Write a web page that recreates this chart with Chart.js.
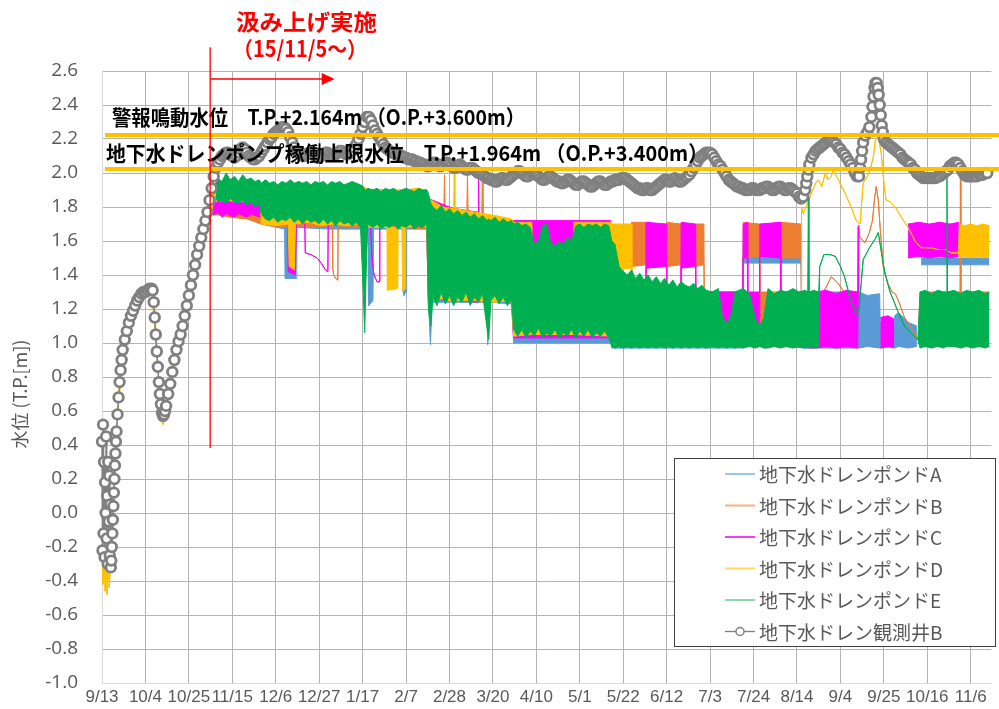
<!DOCTYPE html>
<html><head><meta charset="utf-8">
<script src="https://cdn.jsdelivr.net/npm/chart.js@4.4.1/dist/chart.umd.min.js"></script>
<style>html,body{margin:0;padding:0;background:#fff;}#wrap{width:999px;height:709px;}</style>
</head><body><div id="wrap"><canvas id="c" width="999" height="709"></canvas></div>
<script>
// ---- axis definitions (x = days since 2015-09-13) ----
const xTickLabels = ['9/13','10/4','10/25','11/15','12/6','12/27','1/17','2/7','2/28','3/20','4/10','5/1','5/22','6/12','7/3','7/24','8/14','9/4','9/25','10/16','11/6'];
const xTickStep = 21;
const xMax = 430;
const yTickValues = [-1.0,-0.8,-0.6,-0.4,-0.2,0.0,0.2,0.4,0.6,0.8,1.0,1.2,1.4,1.6,1.8,2.0,2.2,2.4,2.6];

const seriesNames = ['地下水ドレンポンドA','地下水ドレンポンドB','地下水ドレンポンドC','地下水ドレンポンドD','地下水ドレンポンドE','地下水ドレン観測井B'];

// ---- observation well B (daily from day 10, plus detail points) ----
const obsDailyStart = 10;
const obsDaily = [
0.96,1.02,1.07,1.12,1.16,1.19,1.22,1.25,1.27,1.29,
1.30,1.30,1.31,1.32,1.32,1.24,1.05,0.86,0.70,0.59,
0.58,0.63,0.70,0.76,0.83,0.90,0.96,1.01,1.05,1.10,
1.16,1.22,1.28,1.34,1.40,1.46,1.52,1.57,1.62,1.67,
1.72,1.77,1.84,1.91,1.98,2.03,2.06,2.08,2.10,2.11,
2.12,2.12,2.11,2.10,2.09,2.10,2.12,2.14,2.15,2.14,
2.12,2.10,2.09,2.08,2.08,2.09,2.10,2.12,2.14,2.16,
2.18,2.20,2.21,2.23,2.24,2.25,2.26,2.27,2.27,2.26,
2.24,2.21,2.18,2.15,2.13,2.12,2.11,2.10,2.10,2.11,
2.12,2.12,2.11,2.10,2.09,2.09,2.10,2.11,2.12,2.12,
2.11,2.10,2.10,2.11,2.12,2.13,2.13,2.12,2.11,2.11,
2.12,2.13,2.15,2.17,2.20,2.23,2.27,2.30,2.33,2.33,
2.31,2.28,2.25,2.23,2.21,2.19,2.17,2.15,2.14,2.13,
2.12,2.12,2.11,2.11,2.10,2.10,2.09,2.09,2.08,2.08,
2.08,2.07,2.07,2.06,2.06,2.05,2.05,2.04,2.04,2.05,
2.06,2.06,2.05,2.04,2.04,2.05,2.06,2.06,2.05,2.04,
2.03,2.03,2.04,2.05,2.04,2.03,2.02,2.02,2.03,2.03,
2.02,2.01,2.00,2.00,1.99,1.98,1.97,1.97,1.96,1.96,
1.95,1.95,1.96,1.97,1.97,1.96,1.96,1.97,1.98,1.99,
2.00,2.01,2.01,2.00,1.99,1.98,1.98,1.99,2.00,2.00,
1.99,1.98,1.97,1.96,1.96,1.97,1.98,1.98,1.97,1.96,
1.95,1.95,1.94,1.94,1.95,1.96,1.96,1.95,1.94,1.93,
1.93,1.94,1.95,1.95,1.94,1.93,1.92,1.92,1.93,1.94,
1.95,1.95,1.94,1.93,1.93,1.94,1.95,1.95,1.96,1.96,
1.96,1.97,1.97,1.97,1.96,1.95,1.94,1.93,1.92,1.91,
1.91,1.90,1.90,1.91,1.91,1.90,1.90,1.91,1.92,1.93,
1.94,1.95,1.96,1.96,1.95,1.95,1.96,1.97,1.96,1.95,
1.95,1.96,1.97,1.98,1.99,2.01,2.03,2.05,2.07,2.09,
2.10,2.11,2.12,2.12,2.12,2.11,2.09,2.07,2.05,2.04,
2.02,2.00,1.98,1.96,1.95,1.94,1.93,1.92,1.92,1.91,
1.91,1.90,1.90,1.90,1.91,1.91,1.90,1.90,1.90,1.91,
1.91,1.92,1.92,1.91,1.90,1.90,1.91,1.92,1.92,1.91,
1.90,1.90,1.91,1.91,1.90,1.89,1.88,1.86,1.85,1.86,
1.90,1.98,2.05,2.09,2.11,2.13,2.14,2.15,2.16,2.17,
2.18,2.19,2.19,2.19,2.18,2.17,2.15,2.14,2.12,2.11,
2.09,2.07,2.05,2.03,2.00,1.98,1.98,2.08,2.18,2.22,
2.24,2.27,2.33,2.45,2.53,2.50,2.40,2.28,2.20,2.18,
2.17,2.16,2.15,2.14,2.13,2.12,2.11,2.09,2.08,2.07,
2.06,2.05,2.03,2.02,2.00,1.99,1.98,1.97,1.97,1.97,
1.97,1.97,1.97,1.97,1.98,1.98,1.99,2.00,2.01,2.02,
2.04,2.05,2.06,2.06,2.05,2.03,2.01,1.99,1.98,1.98,
1.98,1.98,1.98,1.98,1.99,1.99,1.99,2.00,2.00
];
const obsDetail = [
[0,0.42],[0.25,-0.22],[0.5,0.52],[0.75,-0.12],[1,0.3],[1.25,-0.26],[1.5,0.18],[1.75,0.0],[2,0.45],[2.25,-0.15],[2.5,0.1],[2.75,-0.3],[3,0.3],[3.25,-0.05],[3.5,0.22],[3.75,-0.25],[4,0.05],[4.25,-0.32],
[4.5,-0.28],[4.75,-0.2],[5,-0.12],[5.25,-0.04],[5.5,0.04],[5.75,0.12],[6,0.2],[6.25,0.28],[6.5,0.35],[6.75,0.42],[7,0.48],[7.5,0.58],[8,0.68],[8.5,0.77],[9,0.84],[9.5,0.9],
[24.5,1.31],[25.5,1.15],[26.5,0.95],[27.5,0.77],[28.5,0.64],[29.5,0.57],[30.5,0.6],
[340.5,1.94],[341.5,2.02],[366.5,2.03],[367.5,2.13],[372.5,2.39],[373.5,2.5],[374.5,2.53],[375.5,2.46],[376.5,2.34],[377.5,2.24]
];

// ---- pump pits: [day, daily max, daily min] ----
const pondA = [
[53.5,1.9,1.76],[70,1.91,1.74],[77,1.9,1.7],[88.3,1.9,1.67],[88.5,1.9,1.38],[93.8,1.9,1.38],[94.2,1.9,1.68],[110,1.9,1.67],[128.8,1.9,1.67],[129,1.9,1.22],[131,1.9,1.25],[131.3,1.9,1.67],[145.8,1.9,1.67],[146,1.9,1.28],[147,1.9,1.3],[147.3,1.9,1.67],[157,1.9,1.67],[157.8,1.85,1.24],[158.8,1.8,0.99],[159.6,1.8,1.24],[186,1.74,1.24],[186.5,1.74,0.99],[187.5,1.74,1.24],[198,1.72,1.23],[199,1.7,1.0],[246,1.7,1.0],[246.5,1.3,0.97],[309.8,1.3,0.97],[310,1.52,1.47],[338,1.52,1.47],[338.2,1.3,0.97],[366,1.3,0.97],[370,1.28,0.98],[376,1.29,0.97],[376.2,1.12,0.97],[383,1.12,0.98],[383.2,1.16,0.97],[385,1.18,0.98],[390,1.12,0.97],[394,1.1,0.98],[394.5,null,null],[396,1.5,1.46],[429,1.5,1.46]
];
const pondB = [
[53.3,1.9,1.76],[62,1.92,1.74],[70,1.91,1.73],[77,1.9,1.7],[86,1.92,1.68],[94,1.91,1.69],[102,1.9,1.68],[111.3,1.91,1.69],[111.5,1.45,1.45],[112,1.4,1.4],[113,1.38,1.38],[114,1.37,1.37],[114.2,1.74,1.74],[114.4,1.9,1.69],[122,1.91,1.68],[130,1.9,1.68],[138,1.89,1.69],[146,1.9,1.68],[157,1.9,1.67],[157.8,1.85,1.27],[165.3,1.8,1.26],[165.6,1.99,1.26],[165.9,1.8,1.27],[176.4,1.78,1.25],[176.7,2.0,1.25],[177,1.77,1.26],[183.6,1.75,1.24],[183.9,2.0,1.25],[184.2,1.75,1.24],[190,1.74,1.26],[198,1.72,1.24],[199,1.72,1.05],[207.8,1.72,1.05],[208,1.55,1.05],[228,1.55,1.05],[228.2,1.72,1.05],[246,1.71,1.04],[246.5,1.3,0.98],[255.8,1.3,0.98],[256,1.71,1.45],[263,1.71,1.46],[263.2,1.3,0.98],[272.8,1.3,0.98],[273,1.71,1.45],[280,1.7,1.46],[280.2,1.3,0.98],[286.8,1.3,0.98],[287,1.7,1.45],[291,1.7,1.46],[291.2,1.3,0.98],[309.8,1.3,0.98],[310,1.71,1.5],[318,1.7,1.51],[318.2,1.3,0.98],[327.8,1.3,0.98],[328,1.71,1.5],[338,1.7,1.5],[338.2,1.3,0.98],[348.8,1.3,0.98],[349,1.3,1.3],[352.6,1.39,1.39],[356,1.35,1.35],[359.3,1.29,1.29],[363,1.28,1.28],[365.4,1.3,1.3],[365.6,1.68,1.68],[366.5,1.62,1.62],[368.9,1.59,1.59],[371,1.65,1.65],[372.5,1.72,1.72],[373.5,1.85,1.85],[374.3,1.92,1.92],[375.3,1.84,1.84],[376.2,1.68,1.68],[377.7,1.45,1.45],[380,1.35,1.35],[382,1.3,1.3],[383.5,1.29,1.29],[385,1.25,1.25],[388,1.15,1.15],[391.2,1.09,1.09],[394.5,1.02,1.02],[395.5,1.3,0.98],[414.8,1.3,0.98],[415,2.0,0.98],[415.3,1.3,0.98],[429,1.3,0.98]
];
const pondC = [
[53.7,1.93,1.75],[56,1.95,1.77],[58,1.92,1.74],[60,1.94,1.76],[62,1.9,1.75],[64,1.93,1.74],[66,1.91,1.76],[68,1.94,1.75],[70,1.9,1.74],[72,1.93,1.76],[74,1.91,1.75],[76.5,1.92,1.74],[78,1.9,1.71],[84,1.91,1.7],[89.8,1.9,1.71],[90,1.9,1.42],[93.5,1.9,1.4],[94,1.91,1.7],[97.8,1.9,1.71],[98,1.74,1.74],[98.3,1.53,1.53],[101,1.52,1.52],[104,1.5,1.5],[106,1.47,1.47],[108,1.43,1.43],[109.2,1.42,1.42],[109.4,1.74,1.74],[109.6,1.9,1.71],[120,1.9,1.7],[129.8,1.9,1.7],[130,1.7,1.7],[130.5,1.5,1.5],[131.5,1.4,1.4],[133,1.36,1.36],[134,1.36,1.36],[134.3,1.7,1.7],[134.5,1.9,1.7],[145,1.89,1.69],[157,1.9,1.68],[157.8,1.85,1.26],[170,1.79,1.25],[181.8,1.77,1.24],[182,2.0,1.24],[182.3,1.76,1.25],[198,1.72,1.25],[199,1.72,1.03],[246,1.72,1.03],[246.5,1.3,0.98],[262.8,1.3,0.98],[263,1.71,1.44],[273,1.7,1.45],[273.2,1.3,0.98],[279.8,1.3,0.98],[280,1.71,1.44],[287,1.7,1.45],[287.2,1.3,0.98],[309.8,1.3,0.98],[310,1.7,1.5],[312,1.71,1.5],[312.2,1.3,0.98],[317.8,1.3,0.98],[318,1.7,1.51],[328,1.71,1.5],[328.2,1.3,0.98],[345,1.3,0.97],[350,1.31,0.98],[355,1.29,0.97],[360,1.31,0.98],[365.4,1.3,0.97],[365.6,1.69,1.3],[366.3,1.69,1.3],[366.5,null,null],[376.3,1.15,0.97],[380,1.16,0.98],[383,1.14,0.97],[383.2,null,null],[389.7,1.7,1.5],[395,1.71,1.51],[400,1.7,1.5],[405,1.71,1.51],[410,1.7,1.5],[414.3,1.71,1.51],[414.5,null,null]
];
const pondD = [
[0,-0.28,-0.28],[0.5,-0.42,-0.42],[1,-0.2,-0.2],[1.5,-0.46,-0.46],[2,-0.3,-0.3],[2.5,-0.48,-0.48],[3,-0.26,-0.26],[3.5,-0.44,-0.44],[4,-0.32,-0.32],[5,-0.12,-0.12],[6,0.18,0.18],[8,0.66,0.66],[12,1.05,1.05],[16,1.2,1.2],[20,1.27,1.27],[24,1.3,1.3],[26,1.02,1.02],[28,0.68,0.68],[29.5,0.52,0.52],[31,0.6,0.6],[35,0.87,0.87],[40,1.13,1.13],[45,1.43,1.43],[50,1.7,1.7],[53,1.78,1.78],
[54,1.93,1.83],[60,1.94,1.84],[66,1.93,1.83],[72,1.94,1.84],[76.5,1.93,1.83],[77,1.92,1.7],[84,1.93,1.69],[90,1.92,1.7],[90.5,1.9,1.45],[93,1.9,1.43],[93.5,1.92,1.7],[100,1.93,1.71],[106,1.92,1.69],[112,1.93,1.7],[118,1.92,1.69],[124,1.93,1.7],[130,1.9,1.68],[137.8,1.9,1.68],[138,1.68,1.31],[143,1.68,1.32],[143.2,1.9,1.68],[145,1.9,1.68],[145.3,1.9,1.3],[146.5,1.9,1.32],[146.8,1.9,1.68],[152,1.91,1.69],[157,1.9,1.68],[157.8,1.85,1.25],[165,1.8,1.26],[170,1.79,1.24],[170.3,2.0,1.24],[170.6,1.79,1.25],[180,1.77,1.25],[190,1.75,1.24],[198,1.73,1.25],[199,1.71,1.04],[207.8,1.71,1.05],[208,1.55,1.05],[228,1.55,1.05],[228.2,1.71,1.05],[246,1.71,1.04],[246.5,1.7,1.43],[256,1.7,1.44],[256.2,1.3,0.98],[297.8,1.3,0.98],[298,1.08,0.98],[322,1.08,0.98],[322.2,1.3,0.98],[338,1.3,0.98],
[338.2,1.8,1.8],[339,1.76,1.76],[341,1.82,1.82],[343,1.88,1.88],[345,1.94,1.94],[346.3,1.96,1.96],[348,1.92,1.92],[349.7,2.0,2.0],[351,1.96,1.96],[352.6,1.98,1.98],[353.5,2.02,2.02],[356,1.96,1.96],[359.3,1.88,1.88],[362.2,1.8,1.8],[364.6,1.72,1.72],[366.5,1.7,1.7],[368,1.94,1.94],[370,1.98,1.98],[371.4,2.02,2.02],[373,2.1,2.1],[373.8,2.19,2.19],[375.3,2.21,2.21],[376.7,2.12,2.12],[378.2,1.92,1.92],[379.1,1.84,1.84],[381,1.83,1.83],[383.5,1.8,1.8],[386.4,1.74,1.74],[389.7,1.68,1.68],[393.1,1.6,1.6],[396,1.56,1.56],[400.9,1.56,1.56],[404,1.55,1.55],[407.6,1.55,1.55],[410.5,1.53,1.53],[414,1.53,1.53],
[414.5,1.7,1.5],[417,1.69,1.51],[420,1.7,1.5],[423,1.69,1.51],[426,1.7,1.5],[429,1.69,1.51]
];
const pondE = [
[55,1.9,1.86],[56,1.97,1.83],[58,1.95,1.84],[60,2.0,1.82],[62,1.96,1.85],[64,1.98,1.83],[66,1.95,1.82],[68,1.99,1.84],[70,1.96,1.81],[72,1.97,1.83],[74,1.95,1.8],[76,1.96,1.82],[77,1.94,1.76],[79,1.96,1.73],[81,1.94,1.72],[83,1.95,1.74],[85,1.93,1.71],[87,1.95,1.73],[89,1.94,1.72],[91,1.96,1.74],[93,1.94,1.71],[95,1.95,1.73],[97,1.94,1.7],[99,1.95,1.73],[101,1.93,1.71],[103,1.95,1.72],[105,1.94,1.7],[107,1.95,1.73],[109,1.93,1.7],[111,1.95,1.72],[113,1.94,1.69],[115,1.95,1.72],[117,1.93,1.7],[119,1.94,1.71],[121,1.95,1.69],[123,1.94,1.71],[125,1.93,1.68],[126.3,1.92,1.3],[127,1.9,1.06],[127.7,1.9,1.4],[128.5,1.91,1.7],[131,1.9,1.68],[133,1.91,1.7],[135,1.89,1.67],[137,1.91,1.69],[139,1.9,1.68],[141,1.91,1.7],[143,1.89,1.67],[145,1.9,1.69],[147,1.91,1.68],[149,1.9,1.7],[151,1.89,1.67],[153,1.91,1.69],[155,1.9,1.68],[157,1.9,1.7],[157.8,1.88,1.2],[159,1.82,1.1],[160,1.8,1.27],[162,1.78,1.22],[164,1.81,1.3],[166,1.77,1.23],[168,1.79,1.28],[170,1.76,1.22],[172,1.78,1.27],[174,1.75,1.24],[176,1.77,1.3],[178,1.74,1.22],[180,1.76,1.27],[182,1.73,1.24],[184,1.75,1.29],[186,1.72,1.1],[187,1.73,1.02],[188,1.72,1.25],[190,1.74,1.28],[192,1.71,1.23],[194,1.73,1.27],[196,1.71,1.22],[198,1.72,1.26],[199,1.7,1.08],[201,1.71,1.04],[203,1.69,1.08],[205,1.7,1.03],[207,1.68,1.07],[209,1.58,1.04],[211,1.6,1.09],[213,1.69,1.03],[215,1.7,1.06],[217,1.59,1.04],[219,1.57,1.08],[221,1.6,1.03],[223,1.58,1.06],[225,1.62,1.04],[227,1.6,1.08],[229,1.69,1.03],[231,1.7,1.07],[233,1.68,1.04],[235,1.7,1.08],[237,1.69,1.03],[239,1.7,1.06],[241,1.68,1.04],[243,1.7,1.07],[245,1.69,1.03],[246.5,1.6,0.98],[248,1.58,0.97],[250,1.45,0.98],[252,1.42,0.97],[254,1.4,0.98],[256,1.43,0.97],[258,1.38,0.98],[260,1.41,0.97],[262,1.37,0.98],[264,1.4,0.97],[266,1.36,0.98],[268,1.39,0.97],[270,1.35,0.98],[272,1.38,0.97],[274,1.34,0.98],[276,1.37,0.97],[278,1.33,0.98],[280,1.36,0.97],[282,1.34,0.98],[284,1.33,0.97],[286,1.35,0.98],[288,1.32,0.97],[290,1.34,0.98],[292,1.31,0.97],[295,1.3,0.98],[298,1.32,0.97],[300,1.15,0.98],[302,1.12,0.97],[304,1.16,0.98],[306,1.3,0.97],[308,1.31,0.98],[310,1.32,0.97],[313,1.29,0.98],[316,1.14,0.97],[318,1.1,0.98],[320,1.15,0.97],[322,1.32,0.97],[325,1.29,0.98],[328,1.31,0.97],[331,1.3,0.98],[334,1.32,0.97],[337,1.3,0.98],[340,1.31,0.97],[341.2,1.3,0.98],[341.5,1.86,0.98],[341.8,1.3,0.98],[344,1.31,0.97],[346.5,1.3,0.98],[347,1.45,1.45],[349,1.52,1.52],[352,1.52,1.52],[354.5,1.51,1.51],[357,1.45,1.45],[359,1.39,1.39],[362,1.25,1.25],[364.8,1.16,1.16],[366,1.2,1.2],[368,1.49,1.49],[371,1.56,1.56],[373.7,1.61,1.61],[375.3,1.65,1.65],[377,1.52,1.52],[378.5,1.41,1.41],[381,1.3,1.3],[385,1.18,1.18],[388,1.1,1.1],[391,1.06,1.06],[394.5,1.02,1.02],[395.5,1.3,0.97],[398,1.31,0.98],[401,1.29,0.97],[404,1.31,0.98],[407,1.3,0.97],[408.2,1.3,0.98],[408.5,2.06,0.98],[408.8,1.3,0.98],[412,1.31,0.98],[415,1.29,0.97],[418,1.31,0.98],[421,1.3,0.97],[424,1.31,0.98],[427,1.29,0.97],[429,1.3,0.98]
];

// ---- annotation values ----
const thresholdLevels = [2.222, 2.026];
const thresholdTexts = ['警報鳴動水位　T.P.+2.164m （O.P.+3.600m）','地下水ドレンポンプ稼働上限水位　T.P.+1.964m （O.P.+3.400m）'];
const pumpStartDay = 52.3;
const pumpLineRange = [0.382, 2.74];
const arrowLevel = 2.553;
const arrowEndDay = 112.5;
const pumpTexts = ['汲み上げ実施','（15/11/5～）'];

// ---- styles ----
const plotColors = ['#5B9BD5','#ED7D31','#FF00FF','#FFC000','#00B050'];
const legendColors = ['#9DC3E6','#F4B183','#F040F0','#FFD966','#8ED9A8','#7F7F7F'];
const grey = '#808080';
const AREA = {left: 102, top: 71, right: 993, bottom: 683};

function bandSets(name, rows, color, order) {
  return [
    {label: name, data: rows.map(r => ({x: r[0], y: r[1]})), borderColor: color, backgroundColor: color,
     borderWidth: 1, pointRadius: 0, fill: '+1', order: order, spanGaps: false, tension: 0},
    {label: name + ' min', data: rows.map(r => ({x: r[0], y: r[2]})), borderColor: color, backgroundColor: color,
     borderWidth: 1, pointRadius: 0, fill: false, order: order, spanGaps: false, tension: 0}
  ];
}

const obsPoints = obsDetail.map(p => ({x: p[0], y: p[1]}))
  .concat(obsDaily.map((v, i) => ({x: obsDailyStart + i, y: v})))
  .sort((a, b) => a.x - b.x);

const datasets = [
  {label: seriesNames[5], data: obsPoints, borderColor: grey, borderWidth: 1.5, pointRadius: 4.8,
   pointBorderWidth: 2.8, pointBackgroundColor: '#ffffff', pointBorderColor: grey, fill: false, order: 0, clip: 8},
  ...bandSets(seriesNames[4], pondE, plotColors[4], 1),
  ...bandSets(seriesNames[3], pondD, plotColors[3], 2),
  ...bandSets(seriesNames[2], pondC, plotColors[2], 3),
  ...bandSets(seriesNames[1], pondB, plotColors[1], 4),
  ...bandSets(seriesNames[0], pondA, plotColors[0], 5)
];

function fitText(ctx, txt, x, y, w, font, color) {
  ctx.save();
  ctx.font = font; ctx.fillStyle = color; ctx.textBaseline = 'alphabetic'; ctx.textAlign = 'left';
  const m = ctx.measureText(txt).width;
  ctx.translate(x, y); ctx.scale(w / m, 1);
  ctx.fillText(txt, 0, 0);
  ctx.restore();
}

const annotPlugin = {
  id: 'annot',
  afterDatasetsDraw(chart) {
    const ctx = chart.ctx, xs = chart.scales.x, ys = chart.scales.y;
    ctx.save();
    ctx.strokeStyle = '#FFC000'; ctx.lineWidth = 4;
    thresholdLevels.forEach(v => {
      const py = Math.round(ys.getPixelForValue(v));
      ctx.beginPath(); ctx.moveTo(105, py); ctx.lineTo(999, py); ctx.stroke();
    });
    const f = "bold 21px 'Noto Sans CJK JP', sans-serif";
    fitText(ctx, thresholdTexts[0], 112, 125, 413, f, '#000');
    fitText(ctx, thresholdTexts[1], 106, 161, 602, f, '#000');
    const px = xs.getPixelForValue(pumpStartDay);
    ctx.strokeStyle = '#FF0000'; ctx.lineWidth = 1.3;
    ctx.beginPath(); ctx.moveTo(px, ys.getPixelForValue(pumpLineRange[1])); ctx.lineTo(px, ys.getPixelForValue(pumpLineRange[0])); ctx.stroke();
    const ay = ys.getPixelForValue(arrowLevel), ax = xs.getPixelForValue(arrowEndDay);
    ctx.beginPath(); ctx.moveTo(px, ay); ctx.lineTo(ax - 10, ay); ctx.stroke();
    ctx.fillStyle = '#FF0000';
    ctx.beginPath(); ctx.moveTo(ax, ay); ctx.lineTo(ax - 13, ay - 6); ctx.lineTo(ax - 13, ay + 6); ctx.closePath(); ctx.fill();
    const rf = "bold 22px 'Noto Sans CJK JP', sans-serif";
    fitText(ctx, pumpTexts[0], 236, 30, 141, rf, '#FF0000');
    fitText(ctx, pumpTexts[1], 233, 57, 134, rf, '#FF0000');
    ctx.save();
    ctx.translate(20, 394); ctx.rotate(-Math.PI / 2);
    ctx.font = "18px 'Noto Sans CJK JP', sans-serif"; ctx.fillStyle = '#595959';
    ctx.textAlign = 'center'; ctx.textBaseline = 'middle';
    ctx.fillText('水位 (T.P.[m])', 0, 0);
    ctx.restore();
    const lx = 674.5, ly = 458.5, lw = 321, lh = 188;
    ctx.fillStyle = '#fff'; ctx.fillRect(lx, ly, lw, lh);
    ctx.strokeStyle = '#404040'; ctx.lineWidth = 1; ctx.strokeRect(lx, ly, lw, lh);
    ctx.font = "19px 'Noto Sans CJK JP', sans-serif"; ctx.textBaseline = 'middle'; ctx.textAlign = 'left';
    for (let i = 0; i < seriesNames.length; i++) {
      const ry = 474 + i * 31.5;
      ctx.strokeStyle = legendColors[i]; ctx.lineWidth = i === 5 ? 1.3 : 2;
      ctx.beginPath(); ctx.moveTo(725, ry); ctx.lineTo(755, ry); ctx.stroke();
      if (i === 5) {
        ctx.fillStyle = '#fff'; ctx.lineWidth = 1.5;
        ctx.beginPath(); ctx.arc(740, ry, 4, 0, Math.PI * 2); ctx.fill(); ctx.stroke();
      }
      ctx.fillStyle = '#595959';
      ctx.fillText(seriesNames[i], 759, ry + 1);
    }
    ctx.restore();
  }
};

const chart = new Chart(document.getElementById('c'), {
  type: 'line',
  data: {datasets},
  plugins: [annotPlugin],
  options: {
    responsive: false, animation: false, devicePixelRatio: 1,
    layout: {padding: {top: AREA.top, right: 999 - AREA.right, left: 0, bottom: 0}},
    plugins: {legend: {display: false}, tooltip: {enabled: false}, filler: {propagate: false}},
    elements: {line: {borderJoinStyle: 'round'}},
    scales: {
      x: {
        type: 'linear', min: 0, max: xMax,
        afterBuildTicks: s => { s.ticks = xTickLabels.map((l, i) => ({value: i * xTickStep})); },
        afterFit: s => { s.height = 709 - AREA.bottom; s.paddingLeft = 0; s.paddingRight = 0; },
        ticks: {autoSkip: false, maxRotation: 0, minRotation: 0, padding: 4, color: '#595959',
          font: {family: "'Liberation Sans Narrow', 'Liberation Sans', sans-serif", size: 17},
          callback: v => xTickLabels[Math.round(v / xTickStep)]},
        grid: {color: '#b3b3b3', lineWidth: 1, drawTicks: false},
        border: {color: '#d9d9d9'}
      },
      y: {
        min: -1, max: 2.6,
        afterBuildTicks: s => { s.ticks = yTickValues.map(v => ({value: v})); },
        afterFit: s => { s.width = AREA.left; s.paddingTop = 0; s.paddingBottom = 0; },
        ticks: {padding: 24, color: '#595959', font: {family: "'Open Sans', 'Noto Sans', sans-serif", size: 19},
          callback: v => v.toFixed(1)},
        grid: {color: '#b3b3b3', lineWidth: 1, drawTicks: false},
        border: {color: '#d9d9d9'}
      }
    }
  }
});
for (let k = 0; k < 2; k++) {
  const ca = chart.chartArea, p = chart.options.layout.padding;
  p.top += AREA.top - ca.top;
  p.bottom += ca.bottom - AREA.bottom;
  p.right += ca.right - AREA.right;
  chart.update();
}
</script></body></html>
